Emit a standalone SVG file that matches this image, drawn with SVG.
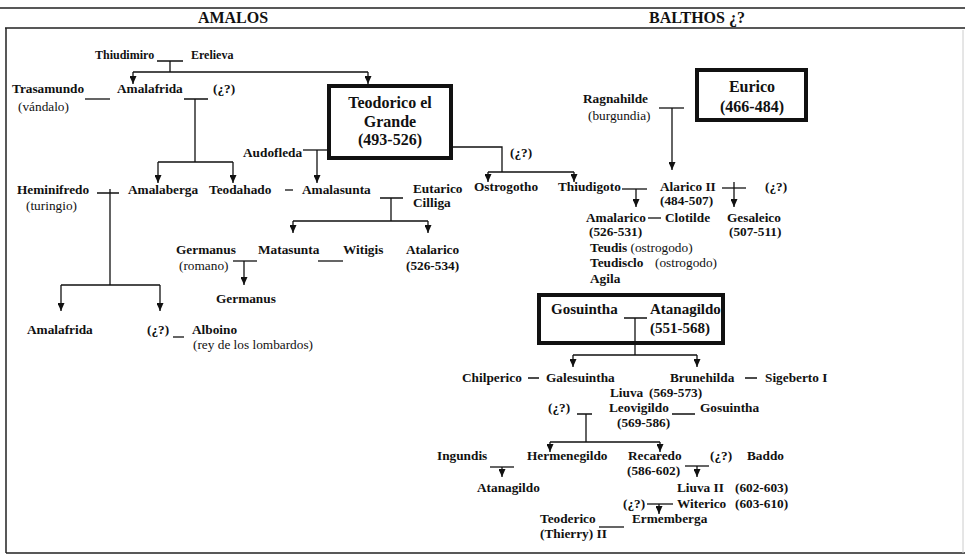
<svg xmlns="http://www.w3.org/2000/svg" width="965" height="558" viewBox="0 0 965 558">
<defs>
<marker id="ah" viewBox="0 0 8 7" refX="8" refY="3.5" markerWidth="8" markerHeight="7" markerUnits="userSpaceOnUse" orient="auto">
<path d="M0,0 L8,3.5 L0,7 Z" fill="#111"/>
</marker>
<style>
text{font-family:"Liberation Serif","Times New Roman",serif;font-size:13.3px;font-weight:bold;fill:#111}
.n{font-weight:normal}
.s{font-size:12px}
.h{font-size:16px;text-anchor:middle}
.b{font-size:16px;text-anchor:middle}
.g{font-size:15px}
.ln{stroke:#111;stroke-width:1.3;fill:none}
.ar{stroke:#111;stroke-width:1.3;fill:none;marker-end:url(#ah)}
.box{fill:none;stroke:#111;stroke-width:4}
.frame{stroke:#222;stroke-width:1.5;fill:none}
</style>
</defs>
<rect width="965" height="558" fill="#fff"/>

<g id="frame">
<path class="frame" d="M0,8 H965 M5,28 H965 M6,28 V553 M6,553 H965"/>
<path d="M963,30 V553" stroke="#ccc" stroke-width="1" fill="none"/>
<text class="h" x="233" y="23">AMALOS</text>
<text class="h" x="697" y="23">BALTHOS ¿?</text>
</g>

<g id="connectors">
<path class="ln" d="M157,61 H183 M170,61 V72 M133,72 H368"/>
<path class="ar" d="M133,72 V84"/>
<path class="ar" d="M368,72 V84"/>
<path class="ln" d="M85,99 H110"/>
<path class="ln" d="M184,99 H208 M195,99 V162 M158,162 H233"/>
<path class="ar" d="M158,162 V183"/>
<path class="ar" d="M233,162 V183"/>
<path class="ln" d="M303,150 H329"/>
<path class="ar" d="M317,150 V183"/>
<path class="ln" d="M451,147 H502 V172 M488,172 H574"/>
<path class="ar" d="M488,172 V182"/>
<path class="ar" d="M574,172 V182"/>
<path class="ln" d="M97,193 H119 M110,189 V285 M61,285 H160"/>
<path class="ar" d="M61,285 V311"/>
<path class="ar" d="M160,285 V311"/>
<path class="ln" d="M285,190 H293"/>
<path class="ln" d="M380,198 H403 M391,198 V221 M293,221 H428"/>
<path class="ar" d="M293,221 V233"/>
<path class="ar" d="M428,221 V233"/>
<path class="ln" d="M233,261 H257"/>
<path class="ar" d="M244,261 V285"/>
<path class="ln" d="M318,261 H343"/>
<path class="ln" d="M173,337 H184"/>
<path class="ln" d="M659,108 H684"/>
<path class="ar" d="M672,108 V170"/>
<path class="ln" d="M622,189 H647"/>
<path class="ar" d="M636,189 V207"/>
<path class="ln" d="M722,188 H746"/>
<path class="ar" d="M734,182 V207"/>
<path class="ln" d="M648,218 H661"/>
<path class="ln" d="M624,318 H647 M635,318 V355 M573,355 H697"/>
<path class="ar" d="M573,355 V367"/>
<path class="ar" d="M697,355 V367"/>
<path class="ln" d="M528,378 H539 M745,378 H757"/>
<path class="ln" d="M577,414 H592 M672,414 H695 M586,414 V442 M550,442 H660"/>
<path class="ar" d="M550,442 V452"/>
<path class="ar" d="M660,442 V452"/>
<path class="ln" d="M490,467 H514"/>
<path class="ar" d="M502,467 V477"/>
<path class="ln" d="M685,466 H709"/>
<path class="ar" d="M697,466 V477"/>
<path class="ln" d="M647,504 H673"/>
<path class="ar" d="M659,504 V514"/>
<path class="ln" d="M599,527 H624"/>
</g>

<g id="thiudimiro"><text class="s" x="95" y="59">Thiudimiro</text></g>
<g id="erelieva"><text class="s" x="191" y="59">Erelieva</text></g>
<g id="trasamundo"><text x="12" y="93">Trasamundo</text><text class="n" x="18" y="111">(vándalo)</text></g>
<g id="amalafrida1"><text x="117" y="93">Amalafrida</text></g>
<g id="unknown1"><text x="213" y="93">(¿?)</text></g>
<g id="teodorico">
<rect class="box" x="329" y="86" width="122" height="72"/>
<text class="b" x="390" y="108">Teodorico el</text>
<text class="b" x="390" y="127">Grande</text>
<text class="b" x="390" y="145">(493-526)</text>
</g>
<g id="audofleda"><text x="243" y="157">Audofleda</text></g>
<g id="unknown2"><text x="510" y="157">(¿?)</text></g>
<g id="heminifredo"><text x="17" y="194">Heminifredo</text><text class="n" x="26" y="210">(turingio)</text></g>
<g id="amalaberga"><text x="128" y="194">Amalaberga</text></g>
<g id="teodahado"><text x="209" y="194">Teodahado</text></g>
<g id="amalasunta"><text x="302" y="194">Amalasunta</text></g>
<g id="eutarico"><text x="413" y="193">Eutarico</text><text x="413" y="207">Cilliga</text></g>
<g id="germanus1"><text x="176" y="254">Germanus</text><text class="n" x="179" y="270">(romano)</text></g>
<g id="matasunta"><text x="258" y="254">Matasunta</text></g>
<g id="witigis"><text x="343" y="254">Witigis</text></g>
<g id="atalarico"><text x="406" y="254">Atalarico</text><text x="406" y="270">(526-534)</text></g>
<g id="germanus2"><text x="216" y="303">Germanus</text></g>
<g id="amalafrida2"><text x="27" y="334">Amalafrida</text></g>
<g id="unknown3"><text x="147" y="334">(¿?)</text></g>
<g id="alboino"><text x="192" y="334">Alboino</text><text class="n" x="193" y="349">(rey de los lombardos)</text></g>

<g id="eurico">
<rect class="box" x="697" y="70" width="109" height="50"/>
<text class="b" x="752" y="92">Eurico</text>
<text class="b" x="752" y="112">(466-484)</text>
</g>
<g id="ragnahilde"><text x="583" y="103">Ragnahilde</text><text class="n" x="588" y="120">(burgundia)</text></g>
<g id="ostrogotho"><text x="474" y="191">Ostrogotho</text></g>
<g id="thiudigoto"><text x="558" y="191">Thiudigoto</text></g>
<g id="alarico2"><text x="660" y="191">Alarico II</text><text x="660" y="205">(484-507)</text></g>
<g id="unknown4"><text x="765" y="191">(¿?)</text></g>
<g id="amalarico"><text x="586" y="222">Amalarico</text><text x="589" y="236">(526-531)</text></g>
<g id="clotilde"><text x="665" y="222">Clotilde</text></g>
<g id="gesaleico"><text x="727" y="222">Gesaleico</text><text x="729" y="236">(507-511)</text></g>
<g id="teudis"><text x="590" y="252">Teudis<tspan class="n"> (ostrogodo)</tspan></text></g>
<g id="teudisclo"><text x="590" y="267">Teudisclo</text><text class="n" x="655" y="267">(ostrogodo)</text></g>
<g id="agila"><text x="590" y="283">Agila</text></g>
<g id="gosuintha-atanagildo">
<rect class="box" x="539" y="295" width="184" height="48"/>
<text class="g" x="551" y="314">Gosuintha</text>
<text class="g" x="650" y="314">Atanagildo</text>
<text class="g" x="650" y="333">(551-568)</text>
</g>
<g id="chilperico"><text x="462" y="382">Chilperico</text></g>
<g id="galesuintha"><text x="546" y="382">Galesuintha</text></g>
<g id="brunehilda"><text x="670" y="382">Brunehilda</text></g>
<g id="sigeberto"><text x="765" y="382">Sigeberto I</text></g>
<g id="liuva"><text x="610" y="397">Liuva</text><text x="649" y="397">(569-573)</text></g>
<g id="unknown5"><text x="548" y="412">(¿?)</text></g>
<g id="leovigildo"><text x="609" y="412">Leovigildo</text><text x="617" y="427">(569-586)</text></g>
<g id="gosuintha2"><text x="700" y="412">Gosuintha</text></g>
<g id="ingundis"><text x="437" y="460">Ingundis</text></g>
<g id="hermenegildo"><text x="527" y="460">Hermenegildo</text></g>
<g id="recaredo"><text x="628" y="460">Recaredo</text><text x="627" y="475">(586-602)</text></g>
<g id="unknown6"><text x="710" y="460">(¿?)</text></g>
<g id="baddo"><text x="747" y="460">Baddo</text></g>
<g id="atanagildo2"><text x="477" y="492">Atanagildo</text></g>
<g id="liuva2"><text x="677" y="492">Liuva II</text><text x="735" y="492">(602-603)</text></g>
<g id="unknown7"><text x="623" y="508">(¿?)</text></g>
<g id="witerico"><text x="677" y="508">Witerico</text><text x="735" y="508">(603-610)</text></g>
<g id="teoderico"><text x="540" y="523">Teoderico</text><text x="540" y="538">(Thierry) II</text></g>
<g id="ermemberga"><text x="632" y="523">Ermemberga</text></g>
</svg>
